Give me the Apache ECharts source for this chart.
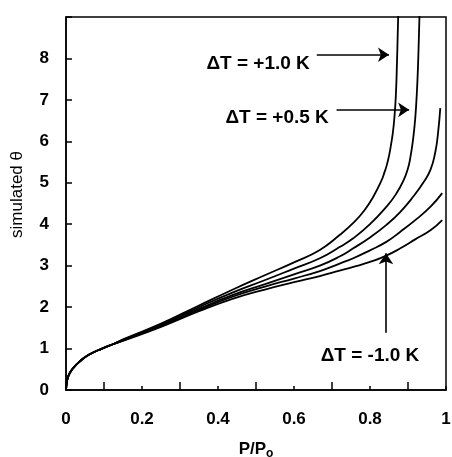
<!DOCTYPE html>
<html>
<head>
<meta charset="utf-8">
<script src="https://cdn.jsdelivr.net/npm/echarts@6/dist/echarts.min.js"></script>
<style>
  html, body { margin: 0; padding: 0; background: #fff; }
  #chart { width: 452px; height: 457px; }
</style>
</head>
<body>
<div id="chart"></div>
<script>
// P/P0 vs simulated theta, one array per temperature offset
const lowPart = [[0, 0], [0.002, 0.18], [0.005, 0.3], [0.01, 0.41], [0.019, 0.53], [0.035, 0.68], [0.06, 0.85], [0.095, 1.0], [0.125, 1.11]];

const dTplus10 = [[0.155, 1.24], [0.25, 1.6], [0.35, 2.04], [0.438, 2.42], [0.526, 2.78], [0.6, 3.08], [0.668, 3.38], [0.72, 3.74], [0.756, 4.03], [0.785, 4.33], [0.809, 4.67], [0.83, 5.05], [0.838, 5.25], [0.844, 5.42], [0.85, 5.65], [0.855, 5.9], [0.86, 6.2], [0.864, 6.55], [0.868, 7.1], [0.871, 7.9], [0.873, 8.6], [0.875, 9.3]];
const dTplus05 = [[0.155, 1.23], [0.25, 1.58], [0.35, 2.0], [0.438, 2.35], [0.526, 2.66], [0.6, 2.93], [0.668, 3.18], [0.72, 3.45], [0.756, 3.66], [0.8, 4.0], [0.844, 4.43], [0.868, 4.72], [0.888, 5.05], [0.9, 5.35], [0.906, 5.6], [0.912, 5.95], [0.917, 6.35], [0.921, 6.8], [0.925, 7.5], [0.928, 8.3], [0.931, 9.3]];
const dTzero = [[0.155, 1.22], [0.25, 1.56], [0.35, 1.96], [0.438, 2.29], [0.526, 2.56], [0.6, 2.79], [0.668, 3.0], [0.72, 3.22], [0.756, 3.42], [0.8, 3.68], [0.844, 3.99], [0.88, 4.3], [0.915, 4.68], [0.94, 5.0], [0.959, 5.31], [0.972, 5.75], [0.979, 6.2], [0.985, 6.8]];
const dTminus05 = [[0.155, 1.21], [0.25, 1.54], [0.35, 1.93], [0.438, 2.25], [0.526, 2.5], [0.6, 2.69], [0.668, 2.87], [0.72, 3.05], [0.756, 3.18], [0.8, 3.37], [0.844, 3.58], [0.88, 3.82], [0.923, 4.13], [0.96, 4.43], [0.99, 4.75]];
const dTminus10 = [[0.155, 1.2], [0.25, 1.52], [0.35, 1.9], [0.438, 2.2], [0.526, 2.43], [0.6, 2.6], [0.668, 2.75], [0.72, 2.88], [0.756, 2.97], [0.8, 3.09], [0.84, 3.23], [0.88, 3.42], [0.92, 3.64], [0.96, 3.86], [0.99, 4.1]];

const curves = [dTplus10, dTplus05, dTzero, dTminus05, dTminus10];
const xTicks = [0, 0.2, 0.4, 0.6, 0.8, 1];
const yTicks = [0, 1, 2, 3, 4, 5, 6, 7, 8];

const font = 'Liberation Sans, Arial, Helvetica, sans-serif';
const chart = echarts.init(document.getElementById('chart'));

const noteLabel = (text, pos) => ({
  show: true, formatter: text, position: pos, distance: 0,
  color: '#000', fontFamily: font, fontWeight: 'bold', fontSize: 19
});

const series = curves.map(c => ({
  type: 'line',
  data: lowPart.concat(c),
  showSymbol: false,
  smooth: 0.5,
  lineStyle: { color: '#000', width: 1.8 },
  silent: true
}));

series[0].markLine = {
  silent: true,
  symbol: ['none', 'arrow'],
  symbolSize: 11,
  label: { show: false },
  lineStyle: { color: '#000', width: 1.6, type: 'solid' },
  data: [
    [{ coord: [0.66, 8.09] }, { coord: [0.85, 8.09] }],
    [{ coord: [0.712, 6.76] }, { coord: [0.903, 6.76] }],
    [{ coord: [0.842, 1.38] }, { coord: [0.842, 3.3] }]
  ]
};
series[0].markPoint = {
  silent: true,
  symbol: 'circle',
  symbolSize: 1,
  itemStyle: { color: 'rgba(0,0,0,0)' },
  data: [
    { coord: [0.643, 7.88], label: noteLabel('ΔT = +1.0 K', 'left') },
    { coord: [0.693, 6.56], label: noteLabel('ΔT = +0.5 K', 'left') },
    { coord: [0.8, 0.83], label: noteLabel('ΔT = -1.0 K', 'inside') }
  ]
};

chart.setOption({
  animation: false,
  grid: {
    left: 66, right: 6, top: 17, bottom: 67, outerBoundsMode: 'none',
    show: true, borderColor: '#000', borderWidth: 1.5
  },
  xAxis: {
    type: 'value', min: 0, max: 1, interval: 0.2,
    name: 'P/P{s|o}', nameLocation: 'middle', nameGap: 48,
    nameTextStyle: {
      color: '#000', fontFamily: font, fontWeight: 'bold', fontSize: 17,
      rich: { s: { fontSize: 12, fontWeight: 'bold', fontFamily: font, color: '#000', padding: [10, 0, 0, 0] } }
    },
    axisLine: { lineStyle: { color: '#000', width: 1.5 } },
    axisTick: { inside: true, length: 4, lineStyle: { color: '#000', width: 1.5 } },
    minorTick: { show: true, splitNumber: 2, length: 8, lineStyle: { color: '#000', width: 1.5 } },
    splitLine: { show: false },
    axisLabel: {
      margin: 21, color: '#000', fontFamily: font, fontWeight: 'bold', fontSize: 17,
      formatter: v => (xTicks.some(t => Math.abs(t - v) < 1e-9) ? String(+v.toFixed(1)) : '')
    }
  },
  yAxis: {
    type: 'value', min: 0, max: 9, interval: 1,
    name: 'simulated θ', nameLocation: 'middle', nameGap: 40,
    nameTextStyle: { color: '#000', fontFamily: font, fontSize: 17, padding: [0, 0, 0, 18] },
    axisLine: { lineStyle: { color: '#000', width: 1.5 } },
    axisTick: { inside: true, length: 6, lineStyle: { color: '#000', width: 1.5 } },
    splitLine: { show: false },
    axisLabel: {
      margin: 17, color: '#000', fontFamily: font, fontWeight: 'bold', fontSize: 17,
      formatter: v => (yTicks.indexOf(v) >= 0 ? String(v) : '')
    }
  },
  series
});
</script>
</body>
</html>
